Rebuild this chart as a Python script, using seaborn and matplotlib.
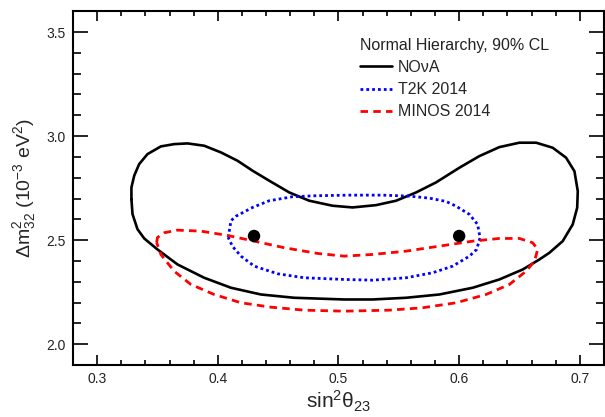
import numpy as np
import pandas as pd
import matplotlib
matplotlib.use("Agg")
import matplotlib.pyplot as plt
import seaborn as sns
from matplotlib.ticker import MultipleLocator, FormatStrFormatter

sns.set_theme(style="ticks")
plt.rcParams['font.family'] = ['Liberation Sans', 'DejaVu Sans']
plt.rcParams['mathtext.fontset'] = 'custom'
plt.rcParams['mathtext.rm'] = 'Liberation Sans'
plt.rcParams['mathtext.it'] = 'Liberation Sans'
plt.rcParams['mathtext.bf'] = 'Liberation Sans:bold'

# NOvA 90% CL contour (closed)
nova_x = [0.3284, 0.3284, 0.3307, 0.3348, 0.3417, 0.3528, 0.3638, 0.3749, 0.3887, 0.4026,
          0.4163, 0.4288, 0.4426, 0.4592, 0.4758, 0.4951, 0.5117, 0.5311, 0.5477, 0.5643,
          0.5808, 0.6002, 0.6167, 0.6333, 0.6499, 0.6638, 0.6775, 0.6886, 0.6955, 0.6983,
          0.6978, 0.6941, 0.6858, 0.6748, 0.6665, 0.6527, 0.6333, 0.6112, 0.5836, 0.5560,
          0.5283, 0.5048, 0.4633, 0.4357, 0.4109, 0.3887, 0.3666, 0.3500, 0.3390, 0.3334,
          0.3293, 0.3284]
nova_y = [2.6971, 2.7534, 2.8096, 2.8654, 2.9135, 2.9505, 2.9615, 2.9649, 2.9538, 2.9216,
          2.8817, 2.8337, 2.7856, 2.7293, 2.6894, 2.6654, 2.6572, 2.6683, 2.6894, 2.7293,
          2.7774, 2.8481, 2.9038, 2.9471, 2.9683, 2.9683, 2.9442, 2.8962, 2.8317, 2.7356,
          2.6558, 2.5755, 2.4952, 2.4394, 2.4072, 2.3591, 2.3111, 2.2712, 2.2389, 2.2231,
          2.2149, 2.2149, 2.2231, 2.2389, 2.2712, 2.3192, 2.3832, 2.4553, 2.5082, 2.5529,
          2.6250, 2.6971]

# T2K 2014 contour (closed)
t2k_x = [0.4086, 0.4109, 0.4150, 0.4288, 0.4426, 0.4619, 0.4813, 0.5090, 0.5366, 0.5587,
         0.5753, 0.5891, 0.5974, 0.6085, 0.6153, 0.6173, 0.6145, 0.6085, 0.5946, 0.5780,
         0.5560, 0.5283, 0.5048, 0.4716, 0.4495, 0.4302, 0.4192, 0.4122, 0.4086]
t2k_y = [2.5130, 2.5933, 2.6150, 2.6572, 2.6894, 2.7087, 2.7135, 2.7163, 2.7163, 2.7115,
         2.7019, 2.6861, 2.6635, 2.6236, 2.5755, 2.5115, 2.4553, 2.4231, 2.3750, 2.3433,
         2.3192, 2.3077, 2.3111, 2.3192, 2.3385, 2.3750, 2.4231, 2.4697, 2.5130]

# MINOS 2014 contour (closed)
minos_x = [0.3493, 0.3500, 0.3556, 0.3666, 0.3860, 0.4080, 0.4302, 0.4551, 0.4827, 0.5048,
           0.5283, 0.5560, 0.5836, 0.6112, 0.6333, 0.6499, 0.6609, 0.6651, 0.6624, 0.6555,
           0.6416, 0.6223, 0.5974, 0.5697, 0.5421, 0.5048, 0.4716, 0.4440, 0.4192, 0.3970,
           0.3777, 0.3638, 0.3528, 0.3493]
minos_y = [2.4889, 2.5130, 2.5356, 2.5481, 2.5433, 2.5226, 2.4952, 2.4635, 2.4361, 2.4231,
           2.4313, 2.4471, 2.4712, 2.4952, 2.5082, 2.5082, 2.4875, 2.4553, 2.3990, 2.3510,
           2.2870, 2.2389, 2.1990, 2.1750, 2.1635, 2.1587, 2.1635, 2.1779, 2.1990, 2.2389,
           2.2870, 2.3510, 2.4313, 2.4889]

# NOvA best-fit points
best_x = [0.43, 0.60]
best_y = [2.52, 2.52]

labels = ["NO\u03bdA", "T2K 2014", "MINOS 2014"]
legend_title = "Normal Hierarchy, 90% CL"

fig = plt.figure(figsize=(6.05, 4.17), dpi=100)
ax = fig.add_axes([0.1207, 0.1247, 0.8776, 0.8483])

sns.lineplot(x=nova_x, y=nova_y, sort=False, estimator=None, ax=ax,
             color="black", lw=1.9, label=labels[0], solid_joinstyle='round')
sns.lineplot(x=t2k_x, y=t2k_y, sort=False, estimator=None, ax=ax,
             color="#0000ff", lw=2.0, linestyle=(0, (1.0, 1.1)), label=labels[1])
sns.lineplot(x=minos_x, y=minos_y, sort=False, estimator=None, ax=ax,
             color="#ff0000", lw=2.0, linestyle=(0, (2.7, 1.9)), label=labels[2])
sns.scatterplot(x=best_x, y=best_y, ax=ax, color="black", s=80, edgecolor="none",
                zorder=5, legend=False)

ax.set_xlim(0.28, 0.72)
ax.set_ylim(1.9, 3.6)
ax.xaxis.set_major_locator(MultipleLocator(0.1))
ax.xaxis.set_minor_locator(MultipleLocator(0.02))
ax.yaxis.set_major_locator(MultipleLocator(0.5))
ax.yaxis.set_minor_locator(MultipleLocator(0.1))
ax.xaxis.set_major_formatter(FormatStrFormatter('%.1f'))
ax.yaxis.set_major_formatter(FormatStrFormatter('%.1f'))

ax.tick_params(which='both', direction='in', top=True, right=True, width=1.2,
               color='black', labelsize=10, labelcolor='#222222')
ax.tick_params(axis='x', which='major', length=7, pad=5)
ax.tick_params(axis='x', which='minor', length=3.5)
ax.tick_params(axis='y', which='major', length=11, pad=5)
ax.tick_params(axis='y', which='minor', length=5.5)
for s in ax.spines.values():
    s.set_linewidth(1.5)
    s.set_color('black')

ax.set_xlabel(r"$\mathrm{sin}^{2}\theta_{23}$", fontsize=15, labelpad=2)
ax.set_ylabel(r"$\Delta\mathrm{m}^{2}_{32}$ (10$^{-3}$ eV$^{2}$)", fontsize=14, labelpad=6)

leg = ax.legend(title=legend_title, loc='upper left', bbox_to_anchor=(0.54, 0.925),
                frameon=False, fontsize=11.5, title_fontsize=11.5, handlelength=2.0,
                handletextpad=0.4, labelspacing=0.45, borderpad=0, borderaxespad=0,
                alignment='left')
leg.get_title().set_color('#222222')

fig.savefig("out.png", dpi=100)
